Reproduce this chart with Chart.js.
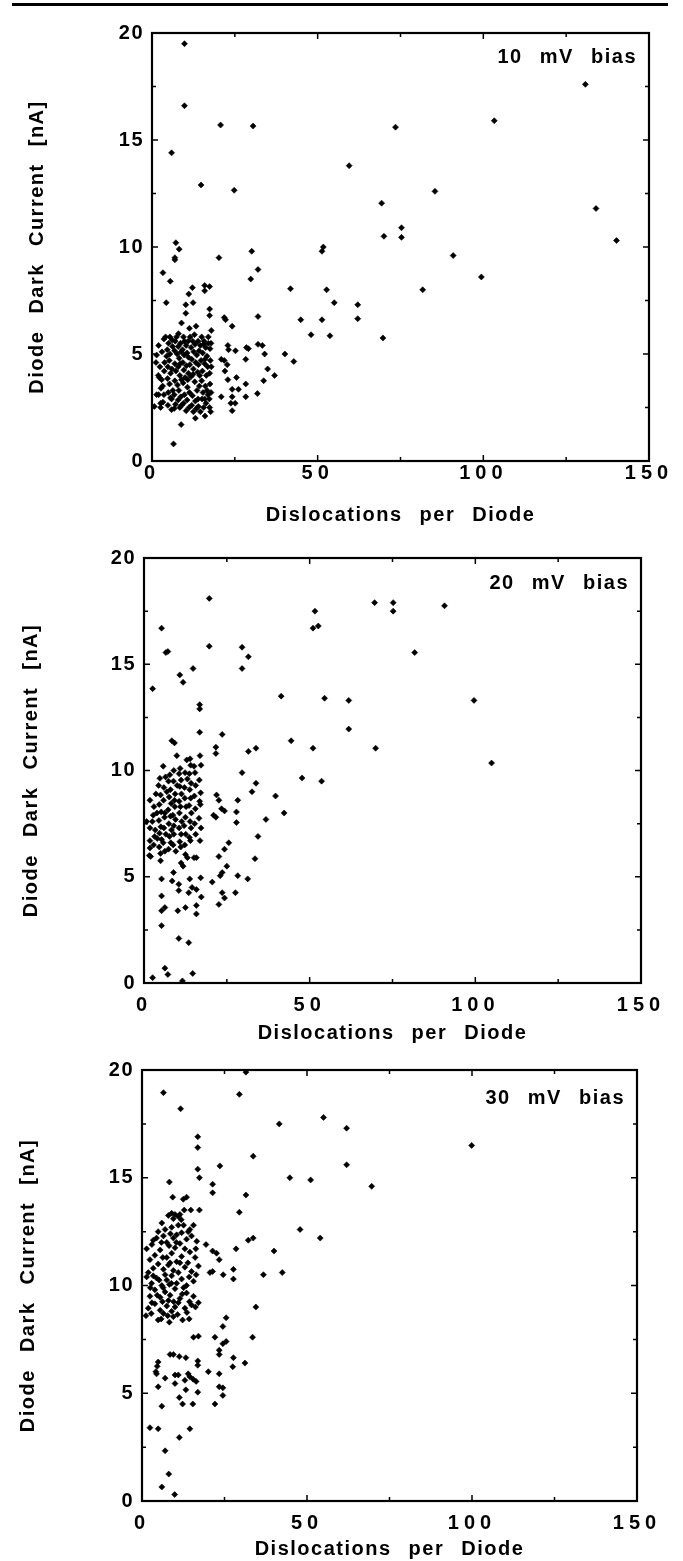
<!DOCTYPE html>
<html lang="en">
<head>
    <meta charset="UTF-8">
    <title>Diode dark current vs dislocations</title>
    <script src="https://cdn.jsdelivr.net/npm/chart.js"></script>
    <style>
        body {
            margin: 0;
            background: #fff;
            width: 683px;
            height: 1561px;
            position: relative;
            overflow: hidden;
        }
        .rule {
            position: absolute;
            left: 12px;
            top: 3px;
            width: 656px;
            height: 3px;
            background: #000;
        }
        canvas {
            position: absolute;
            left: 0;
        }
    </style>
</head>
<body>
    <div class="rule"></div>
    <canvas id="bias10" width="683" height="527" style="top:0px"></canvas>
    <canvas id="bias20" width="683" height="518" style="top:527px"></canvas>
    <canvas id="bias30" width="683" height="516" style="top:1045px"></canvas>

    <script>
        const xTicks = [0, 50, 100, 150];
        const yTicks = [0, 5, 10, 15, 20];
        const xTitle = 'Dislocations per Diode';
        const yTitle = 'Diode Dark Current [nA]';
        const biasLabels = ['10 mV bias', '20 mV bias', '30 mV bias'];

        // [dislocations, dark current nA]
        const dots10mV = [
            [9.8,19.5],[9.8,16.6],[5.9,14.4],[20.7,15.7],[30.5,15.65],[14.8,12.9],[24.8,12.65],
            [73.5,15.6],[59.5,13.8],[130.8,17.6],[103.3,15.9],[85.4,12.6],[69.3,12.05],[134,11.8],
            [75.3,10.9],[70,10.5],[75.3,10.45],[140.2,10.3],[51.7,10.0],[51.3,9.8],[90.9,9.6],
            [99.4,8.6],[81.7,8.0],[52.7,8.0],[41.8,8.05],[55,7.4],[62.1,7.3],[62.1,6.65],[44.9,6.6],
            [51.3,6.6],[48,5.9],[53.7,5.85],[69.7,5.75],[40.1,5.0],[42.8,4.65],[37,4.0],[34.9,4.3],
            [34,5.0],[33.3,5.4],[32,5.45],[33.7,3.75],[31.8,3.15],[32,8.95],[30.1,9.8],[29.8,8.5],
            [32,6.75],[29.1,5.25],[28.5,5.3],[28.3,4.75],[20.2,9.5],[7.2,10.2],[8.2,9.9],[6.9,9.5],[6.9,9.4],
            [3.3,8.8],[5.5,8.4],[4.3,7.4],[12.2,8.1],[11.1,7.8],[15.9,8.2],[15.9,7.95],[17.4,8.15],
            [10.2,7.3],[12.4,7.4],[10.2,6.9],[8.9,6.45],[13.3,6.3],[11.3,6.2],[17.4,7.1],[17.4,6.8],
            [17.9,6.1],[21.8,6.7],[22.2,6.6],[24.2,6.3],[25.2,5.15],[22.9,5.4],[23.1,5.2],[20.9,4.75],
            [21.8,4.7],[22.7,4.5],[22,4.2],[22.9,3.8],[25.5,3.9],[24.2,3.35],[26.1,3.35],[24.2,3.0],[23.8,2.7],
            [25.1,2.7],[24.2,2.35],[20.9,3.0],[28.3,3.6],[28.3,3.0],[6.5,0.8],[8.8,1.7],[13.1,2.0],
            [16.0,2.1],[17.7,2.3],[6.7,2.45],[3.3,2.75],[0.7,2.55],[2.0,3.1],
            [1.4,4.95],[2.4,4.4],[1.9,4.0],[1.4,3.1],[2.6,2.7],[3.6,5.7],[2.9,3.8],[3.2,3.5],[1.2,4.6],[3.0,5.1],[2.2,3.9],
            [5.4,5.8],[5.0,5.5],[4.6,5.2],[5.4,5.0],[5.2,4.7],[4.8,4.4],[5.6,4.1],[4.7,3.85],[5.3,3.6],[4.9,3.2],[5.6,2.95],[4.8,2.6],[5.9,2.4],[4.4,4.9],
            [7.4,5.8],[7.0,5.6],[7.9,5.35],[6.8,5.15],[7.6,5.0],[8.2,4.8],[6.9,4.55],[7.9,4.4],[7.2,4.2],[8.4,4.0],[6.9,3.75],[7.7,3.55],[8.1,3.3],[6.7,3.1],[7.9,2.85],[7.1,2.65],[8.4,2.5],
            [9.5,5.8],[9.8,5.6],[10.3,5.4],[9.2,5.2],[10.6,5.05],[9.7,4.95],[11.0,4.85],[9.3,4.6],[10.4,4.45],[9.6,4.25],[11.0,4.1],[10.0,3.9],[9.4,3.65],[10.7,3.45],[9.8,3.1],[10.6,2.85],[11.2,2.5],[9.5,2.7],
            [11.5,5.8],[12.3,5.6],[13.0,5.45],[11.8,5.3],[12.6,5.1],[13.5,4.95],[12.0,4.75],[13.2,4.6],[12.5,4.3],[13.8,4.15],[11.8,3.95],[12.9,3.7],[13.6,3.3],[12.2,3.05],[13.1,2.8],[12.0,2.6],[13.4,2.45],[12.5,2.3],[14.0,2.55],
            [15.0,5.8],[15.7,5.6],[14.6,5.4],[16.2,5.3],[15.3,5.05],[16.6,4.9],[14.8,4.7],[15.9,4.55],[16.8,4.4],[15.2,4.2],[16.4,4.0],[15.0,3.75],[16.1,3.5],[15.4,3.2],[16.9,3.1],[15.1,2.9],[16.3,2.7],[15.6,2.5],
            [17.0,5.8],[17.0,5.5],[17.5,5.25],[17.6,4.7],[17.4,4.1],[17.5,3.6],[17.3,2.9],[17.4,2.5],
            [2.0,5.4],[3.8,4.6],[3.6,3.1],[2.6,2.5],[4.1,5.8],[6.2,5.35],[6.0,4.3],[6.3,3.3],[5.9,2.9],[8.6,5.5],
            [8.8,5.1],[8.5,4.55],[8.9,3.8],[8.7,3.0],[8.9,2.6],[10.9,5.6],[11.4,4.5],[10.8,3.8],[11.3,3.2],[10.3,2.35],
            [12.8,5.9],[13.9,5.6],[14.2,5.15],[14.0,4.5],[12.4,4.05],[14.3,3.5],[13.9,2.9],[14.6,2.3],[15.6,5.45],[16.0,4.75],
            [14.4,4.0],[16.6,3.3],[15.9,2.9],[17.8,5.5],[17.9,4.4],[17.8,3.2],[3.7,4.2],[2.7,3.4],[6.1,5.65],[8.0,5.95]
        ];

        const dots20mV = [
            [19.7,18.1],[5.3,16.7],[7.2,15.6],[6.6,15.55],[2.6,13.85],[14.8,14.8],[10.8,14.5],[11.8,14.15],
            [16.8,13.1],[16.8,12.9],[16.8,11.8],[19.7,15.85],[29.6,15.8],[31.5,15.35],[29.6,14.8],
            [41.4,13.5],[54.5,13.4],[61.8,13.3],[61.8,11.95],[44.4,11.4],[51,11.05],[69.9,11.05],
            [69.6,17.9],[75.2,17.9],[75.2,17.5],[90.7,17.75],[81.7,15.55],[99.6,13.3],[104.9,10.35],
            [51.6,17.5],[51,16.7],[52.6,16.8],[47.7,9.65],[53.6,9.5],[39.7,8.8],[42.3,8.0],[36.8,7.7],
            [34.4,6.9],[33.5,5.85],[31.3,4.9],[28.3,5.05],[27.6,4.25],[31.5,10.9],[33.8,11.05],
            [29.6,9.9],[33.8,9.4],[32.6,9.0],[28.3,8.6],[27.9,8.05],[27.9,7.55],[21.7,11.1],[21.7,10.8],
            [23.6,11.7],[21.9,8.85],[22.6,8.6],[21,7.9],[21.7,7.8],[24.3,8.1],[23.4,8.2],[25.6,6.6],
            [24.3,6.3],[22.6,5.95],[25,5.5],[23.6,5.2],[23,5.05],[20.6,4.75],[23.6,4.25],[24.3,4.0],
            [22.6,3.7],[2.6,0.25],[6.3,0.7],[7.2,0.4],[11.6,0.1],[14.7,0.45],[10.5,2.1],[13.5,1.9],
            [5.3,2.7],[5.3,3.4],[6.3,3.55],[10.2,3.4],[12.5,3.55],[15.8,3.65],[15.8,3.25],[17.3,4.05],
            [5.3,4.1],[5.3,4.9],[8.5,4.8],[10.5,4.65],[10.5,4.35],[13.8,4.9],[14.5,4.5],[15.8,4.4],
            [17.1,4.95],[13.5,4.25],[8.9,5.2],[11.2,5.65],[11.8,5.5],[5,5.75],[2,5.95],[12.5,6.05],
            [15.1,5.9],[15.8,5.9],[13.1,5.9],
            [1.8,8.6],[1.8,7.3],[1.8,6.7],[1.8,6.35],[1.6,6.0],[0.8,7.6],[2.5,7.6],
            [4.8,9.63],[4.4,9.3],[5.0,8.85],[4.6,8.4],[5.2,8.05],[4.5,7.65],[5.1,7.35],[4.7,7.05],[5.3,6.75],[4.6,6.4],[5.0,6.1],[3.6,8.9],[3.4,7.2],
            [7.8,9.8],[7.4,9.5],[8.0,9.1],[7.6,8.75],[8.2,8.45],[7.3,8.15],[8.0,7.85],[7.5,7.5],[8.3,7.2],[7.7,6.9],[8.1,6.6],[7.4,6.3],[6.3,8.0],[6.6,7.0],[9.3,8.3],[9.0,7.4],
            [10.9,10.1],[10.6,9.85],[11.2,9.55],[10.8,9.25],[11.3,8.9],[10.6,8.55],[11.0,8.3],[10.7,8.0],[11.4,7.6],[10.6,7.3],[11.2,7.0],[10.8,6.65],[11.1,6.4],[12.3,8.7],[12.5,7.8],
            [13.9,10.55],[14.1,10.25],[13.7,9.85],[14.2,9.4],[13.8,9.1],[14.1,8.7],[13.6,8.35],[14.3,8.0],[13.9,7.6],[14.2,7.3],[13.7,6.85],[14.0,6.7],
            [16.9,10.7],[17.2,10.25],[16.7,9.55],[17.1,8.95],[16.8,8.55],[17.0,8.4],[16.6,7.75],[17.2,7.3],[16.9,6.7],
            [8.4,11.4],[9.2,11.3],[9.9,10.7],[12.9,10.5],[15.1,10.2],[9.0,10.0],[6.5,9.7],[5.8,10.2],
            [3.0,8.3],[2.8,7.9],[3.2,6.9],[2.9,6.5],[6.0,9.2],[5.9,8.6],[6.2,7.8],[6.0,7.3],[5.8,6.6],[6.3,6.2],
            [8.9,9.5],[9.4,8.9],[9.2,8.6],[8.7,7.9],[9.5,7.7],[9.0,7.0],[8.8,6.5],[9.6,6.2],[12.4,9.9],[12.2,9.2],
            [12.7,8.3],[12.1,7.4],[12.6,7.0],[12.3,6.5],[15.4,9.9],[15.6,9.3],[15.2,8.8],[15.5,8.2],[15.3,7.5],[15.6,7.0],
            [10.0,9.3],[6.9,9.0],[3.9,8.0],[4.0,6.8],[13.1,9.6]
        ];

        const dots30mV = [
            [6.5,18.95],[29.5,18.87],[31.5,19.9],[11.7,18.2],[55,17.8],[41.6,17.5],[16.9,16.9],[16.9,16.4],[33.7,16.0],
            [23.6,15.55],[16.9,15.4],[17.4,15.0],[8.3,14.8],[44.8,15.0],[51.1,14.9],[21.4,14.7],[21.4,14.3],
            [31.5,14.2],[9.3,14.1],[12.5,14.0],[13.5,14.1],[14.8,13.5],[17.4,13.5],[29.5,13.4],[47.9,12.6],
            [54,12.2],[32.2,12.1],[33.7,12.2],[40,11.6],[28.5,11.7],[42.5,10.6],[36.8,10.5],[27.7,10.75],
            [27.7,10.3],[24.6,10.5],[20.6,10.6],[21.4,10.65],[19.4,11.9],[21.4,11.6],[22.6,11.5],[23.4,11.2],
            [34.5,9.0],[33.5,7.6],[31.2,6.4],[27.7,6.65],[27.5,6.23],[25.5,8.5],[24.5,8.1],[25.5,7.4],
            [24.5,7.3],[23.4,7.0],[23.4,6.8],[22.1,7.6],[23.4,5.9],[23.4,5.3],[24.5,5.25],[24.5,4.9],
            [22.1,4.5],[20.1,6.0],[17.1,7.65],[15.6,7.6],[16.9,6.5],[16.9,6.3],[8.5,6.8],[9.5,6.8],
            [11.3,6.7],[13.3,6.65],[4.9,6.45],[4.6,6.25],[4.2,6.0],[4.4,5.9],[7,5.7],[10,5.85],[11,5.85],
            [14,5.9],[14.5,5.77],[15.5,5.65],[16.4,5.55],[4.9,5.3],[10,5.45],[13,5.6],[13.3,5.16],
            [11.3,4.8],[16.9,5.05],[15.4,4.5],[12.3,4.5],[6,4.4],[2.4,3.4],[4.9,3.35],[14.5,3.35],
            [11.3,2.95],[7,2.33],[8.1,1.25],[6,0.65],[9.9,0.3],
            [99.9,16.5],[69.6,14.6],[62,17.3],[62,15.6],
            [8.0,13.25],[9.0,13.35],[10.0,13.3],[11.0,13.2],[11.5,13.3],[9.5,13.1],
            [4.9,12.5],[6.0,12.9],[9.0,12.7],[11.0,12.8],[14.5,12.6],[15.6,12.8],[7.0,12.6],[12.0,12.45],
            [3.4,12.1],[6.5,12.3],[7.5,12.0],[9.5,12.2],[11.5,11.95],[13.5,12.15],[15.0,12.3],[16.6,12.05],[10.5,12.35],
            [1.4,11.7],[3.9,11.4],[5.5,11.65],[7.5,11.3],[9.0,11.5],[10.0,11.75],[12.0,11.35],[14.5,11.55],[16.1,11.3],[8.2,11.85],
            [1.9,10.6],[3.4,10.8],[4.9,11.0],[6.5,10.75],[8.0,10.95],[9.5,10.7],[11.5,11.05],[13.0,10.85],[15.0,10.65],[17.1,10.9],[10.5,11.1],
            [1.4,10.4],[2.9,10.1],[4.4,10.35],[6.0,10.0],[7.5,10.25],[9.0,10.45],[10.5,10.1],[12.0,10.3],[13.5,10.0],[15.6,10.2],[8.3,10.05],
            [2.4,9.5],[3.9,9.8],[5.5,9.45],[7.0,9.7],[8.5,9.55],[10.0,9.85],[11.5,9.4],[13.5,9.65],[15.6,9.5],[6.2,9.25],
            [1.9,8.95],[3.9,9.15],[5.5,8.85],[7.5,9.05],[9.0,8.8],[11.0,9.2],[13.0,8.95],[15.0,9.1],[17.1,9.2],[10.0,9.0],
            [1.2,8.6],[4.9,8.4],[6.5,8.7],[9.5,8.55],[12.3,8.4],[14.3,8.45],[7.8,8.6],
            [2.4,11.2],[3.0,11.9],[4.4,12.2],[5.9,12.0],[6.3,11.3],[8.6,12.4],[8.5,11.05],[10.4,12.0],[12.6,12.8],[13.0,11.7],
            [13.9,11.05],[14.0,12.5],[16.3,11.7],[2.5,9.9],[3.4,10.45],[5.2,10.25],[7.0,10.5],[8.9,10.1],[11.0,10.6],[12.6,9.9],
            [14.3,10.4],[16.4,10.5],[3.0,9.2],[4.6,9.55],[6.4,9.9],[8.0,9.3],[9.6,9.25],[12.2,9.6],[14.4,9.25],[16.2,9.0],
            [2.8,8.7],[5.8,8.45],[8.3,8.3],[10.8,8.65],[13.6,8.75],[11.9,13.05],[12.8,13.5]
        ];

        const FONT = 'Liberation Sans, Arial, Helvetica, sans-serif';

        // box outline, inward ticks, x tick spacing and the bias note
        const framePlugin = {
            id: 'frame',
            beforeDraw(chart) {
                chart.ctx.letterSpacing = '1.5px';
                chart.ctx.wordSpacing = '10px';
            },
            beforeDatasetsDraw(chart) {
                chart.ctx.letterSpacing = '0px';
                chart.ctx.wordSpacing = '0px';
            },
            afterDatasetsDraw(chart) {
                const {ctx, chartArea: a, scales: {x, y}} = chart;
                ctx.save();
                ctx.strokeStyle = '#000';
                ctx.lineWidth = 2.2;
                ctx.strokeRect(a.left, a.top, a.right - a.left, a.bottom - a.top);
                ctx.lineWidth = 1.5;
                ctx.beginPath();
                for (let i = 0; i < xTicks.length; i++) {
                    const vals = [xTicks[i]];
                    if (i > 0) vals.push((xTicks[i] + xTicks[i - 1]) / 2);
                    vals.forEach((v, k) => {
                        const px = x.getPixelForValue(v);
                        const len = k === 0 ? 6 : 4;
                        ctx.moveTo(px, a.bottom); ctx.lineTo(px, a.bottom - len);
                        ctx.moveTo(px, a.top); ctx.lineTo(px, a.top + len);
                    });
                }
                for (let i = 0; i < yTicks.length; i++) {
                    const vals = [yTicks[i]];
                    if (i > 0) vals.push((yTicks[i] + yTicks[i - 1]) / 2);
                    vals.forEach((v, k) => {
                        const py = y.getPixelForValue(v);
                        const len = k === 0 ? 6 : 4;
                        ctx.moveTo(a.left, py); ctx.lineTo(a.left + len, py);
                        ctx.moveTo(a.right, py); ctx.lineTo(a.right - len, py);
                    });
                }
                ctx.stroke();
                ctx.restore();
                // x tick labels are drawn next (z = 1), spaced out like the print
                ctx.letterSpacing = '5px';
            },
            afterDraw(chart, args, opts) {
                const {ctx, chartArea: a} = chart;
                ctx.save();
                ctx.letterSpacing = '1.5px';
                ctx.wordSpacing = '10px';
                ctx.font = 'bold 20px ' + FONT;
                ctx.fillStyle = '#000';
                ctx.textAlign = 'right';
                ctx.textBaseline = 'middle';
                ctx.fillText(opts.label, a.right - 12, a.top + opts.labelDy);
                ctx.restore();
                ctx.letterSpacing = '0px';
                ctx.wordSpacing = '0px';
            }
        };

        function makePanel(id, dots, label, box) {
            const ctx = document.getElementById(id).getContext('2d');
            const font = {family: FONT, size: 20, weight: 'bold'};
            return new Chart(ctx, {
                type: 'scatter',
                data: {
                    datasets: [{
                        data: dots.map(d => ({x: d[0], y: d[1]})),
                        pointStyle: 'rectRot',
                        pointRadius: 3,
                        pointBackgroundColor: '#000',
                        pointBorderColor: '#000',
                        pointBorderWidth: 0.6,
                        clip: false
                    }]
                },
                options: {
                    responsive: false,
                    animation: false,
                    events: [],
                    layout: {padding: {top: box.top, right: box.right, left: 0, bottom: 0}},
                    plugins: {
                        legend: {display: false},
                        tooltip: {enabled: false},
                        frame: {label: label, labelDy: box.labelDy}
                    },
                    scales: {
                        x: {
                            type: 'linear',
                            min: 0,
                            max: 150,
                            afterBuildTicks: s => { s.ticks = xTicks.map(v => ({value: v})); },
                            afterFit: s => { s.height = box.xHeight; },
                            grid: {display: false, drawTicks: false, tickLength: 0},
                            border: {display: false},
                            ticks: {
                                z: 1,
                                padding: box.xPad,
                                maxRotation: 0,
                                color: '#000',
                                font: font
                            },
                            title: {
                                display: true,
                                text: xTitle,
                                color: '#000',
                                font: font,
                                padding: {top: 0, bottom: box.xTitlePad}
                            }
                        },
                        y: {
                            type: 'linear',
                            min: 0,
                            max: 20,
                            afterBuildTicks: s => { s.ticks = yTicks.map(v => ({value: v})); },
                            afterFit: s => { s.width = box.left; },
                            grid: {display: false, drawTicks: false, tickLength: 0},
                            border: {display: false},
                            ticks: {
                                padding: 8,
                                color: '#000',
                                font: font
                            },
                            title: {
                                display: true,
                                text: yTitle,
                                color: '#000',
                                font: font,
                                padding: {top: box.yTitlePad, bottom: 0}
                            }
                        }
                    }
                },
                plugins: [framePlugin]
            });
        }

        makePanel('bias10', dots10mV, biasLabels[0],
            {top: 33, right: 34, left: 152, xHeight: 66, xPad: 0, xTitlePad: 0, yTitlePad: 25, labelDy: 24});
        makePanel('bias20', dots20mV, biasLabels[1],
            {top: 31, right: 42, left: 144, xHeight: 62, xPad: 10, xTitlePad: 0, yTitlePad: 19, labelDy: 25});
        makePanel('bias30', dots30mV, biasLabels[2],
            {top: 25, right: 46, left: 142, xHeight: 60, xPad: 10, xTitlePad: 0, yTitlePad: 16, labelDy: 28});
    </script>
</body>
</html>
